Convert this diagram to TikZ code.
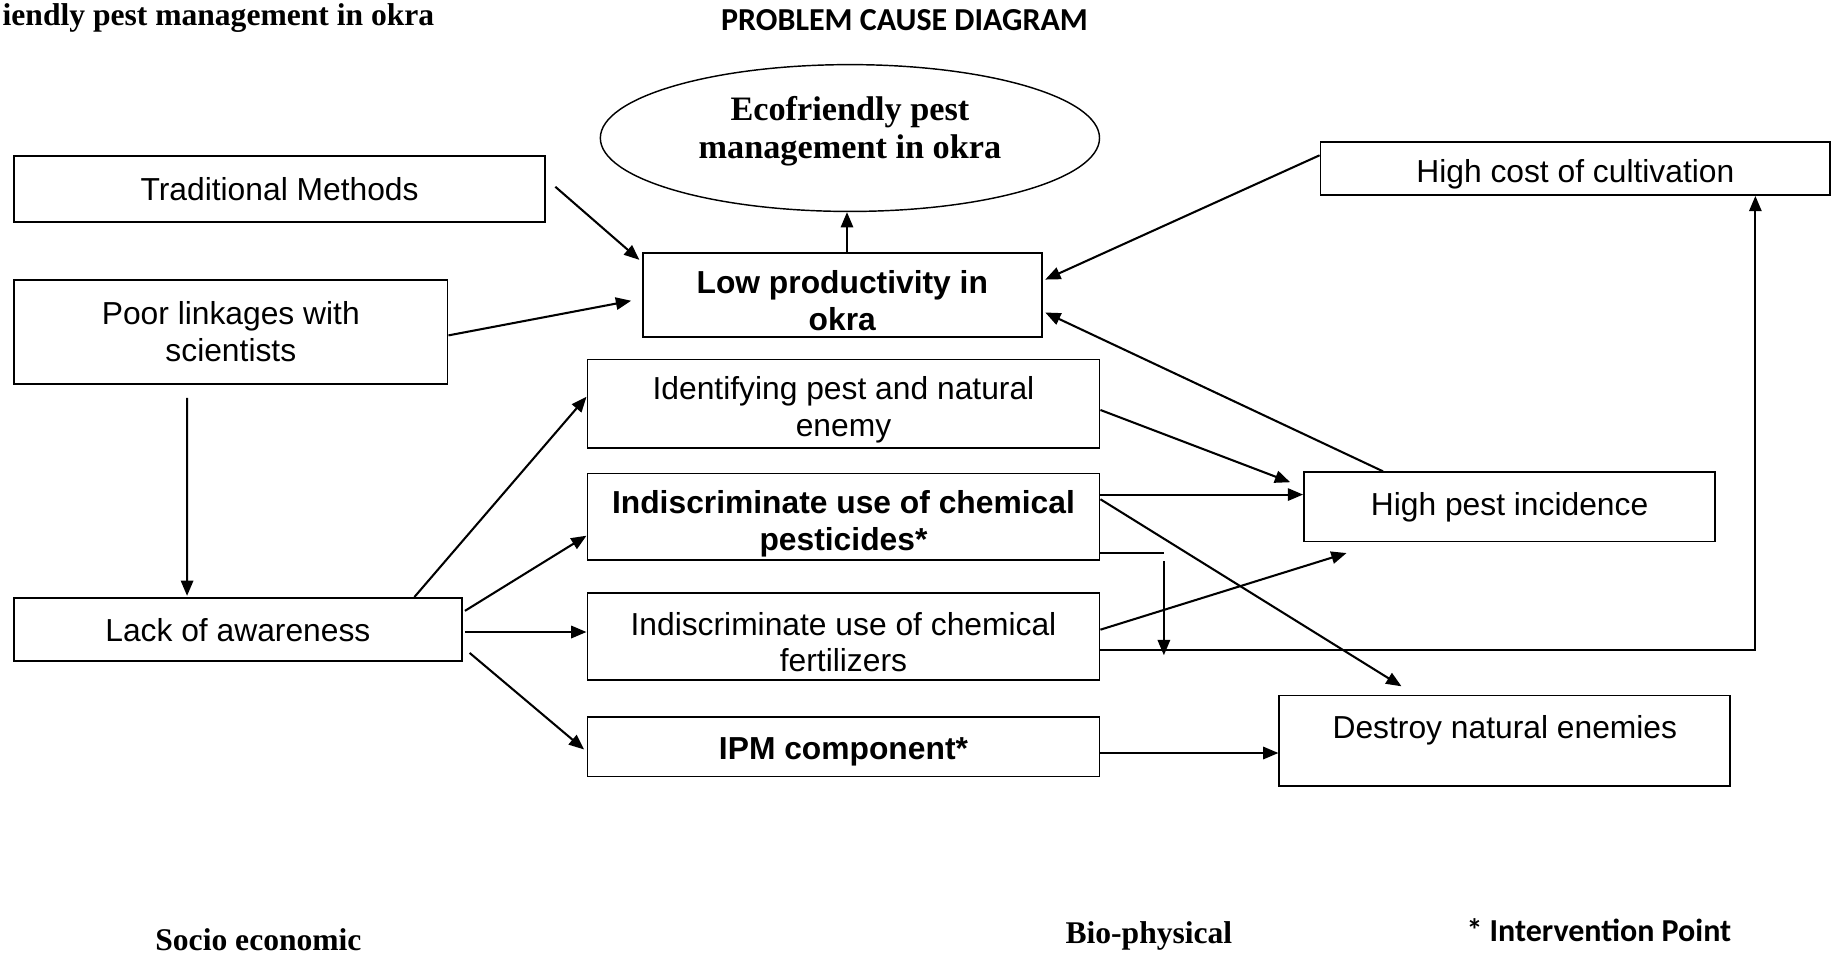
\documentclass[tikz,border=0pt]{standalone}
\usepackage{fontspec}
\setmainfont{Liberation Sans}
\newfontfamily\timesfont{Liberation Serif}
\newfontfamily\calibrifont{Carlito}
\usetikzlibrary{shapes.geometric,arrows.meta,calc}

% struts to nudge text inside the boxes
\newcommand{\tallstrut}[1]{\rule{0pt}{#1}}
\newcommand{\deepstrut}[1]{\rule[-#1]{0pt}{#1}}

\tikzset{
    box/.style={draw, line width=0.9pt, inner sep=0pt, align=center, font=\fontsize{15.4}{17.7}\selectfont},
    boldbox/.style={box, font=\bfseries\fontsize{15.4}{17.7}\selectfont},
    arr/.style={line width=1pt, -{Triangle[length=0.26cm,width=0.21cm]}},
    serifhead/.style={inner sep=0pt, font=\timesfont\bfseries\fontsize{15.3}{17}\selectfont},
    calhead/.style={inner sep=0pt, font=\calibrifont\bfseries\fontsize{15.5}{18}\selectfont},
}

\begin{document}
\begin{tikzpicture}[x=0.02cm, y=-0.02cm]
    \useasboundingbox (0,0) rectangle (1568,814);

    % headings
    \node[serifhead, anchor=east] (ttl) at (370,15) {iendly pest management in okra};
    \node[calhead] (head) at (770,17) {PROBLEM CAUSE DIAGRAM};

    % goal
    \node[draw, ellipse, line width=0.7pt, minimum width=8.5cm, minimum height=2.5cm, inner sep=0pt, align=center,
          font=\timesfont\bfseries\fontsize{16.6}{18.5}\selectfont] (ell) at (723.5,117.5) {Ecofriendly pest\\management in okra\deepstrut{10.5pt}};

    % boxes
    \node[box, minimum width=9.04cm, minimum height=1.12cm] (trad) at (238,161) {Traditional Methods};
    \node[boldbox, minimum width=6.8cm, minimum height=1.44cm] (low) at (717,251) {\tallstrut{17pt}Low productivity in\\okra};
    \node[box, minimum width=8.68cm, minimum height=0.9cm] (cost) at (1341,143.5) {\tallstrut{17pt}High cost of cultivation};
    \node[box, minimum width=7.38cm, minimum height=1.78cm] (poor) at (196.5,282.5) {Poor linkages with\\scientists};
    \node[box, minimum width=8.72cm, minimum height=1.5cm] (ident) at (718,343.5) {\tallstrut{17pt}Identifying pest and natural\\enemy};
    \node[boldbox, minimum width=8.72cm, minimum height=1.48cm] (pest) at (718,440) {\tallstrut{18pt}Indiscriminate use of chemical\\pesticides*};
    \node[box, minimum width=7cm, minimum height=1.18cm] (pinc) at (1285,431.5) {High pest incidence};
    \node[box, minimum width=7.62cm, minimum height=1.08cm] (lack) at (202.5,536) {Lack of awareness};
    \node[box, minimum width=8.72cm, minimum height=1.48cm] (fert) at (718,542) {\tallstrut{16.3pt}Indiscriminate use of chemical\\fertilizers};
    \node[boldbox, minimum width=8.72cm, minimum height=1.02cm] (ipm) at (718,635.5) {\tallstrut{15.8pt}IPM component*};
    \node[box, minimum width=7.68cm, minimum height=1.54cm] (dest) at (1281,630.5) {\tallstrut{15.8pt}Destroy natural enemies\\ \mbox{}};

    % arrows into low productivity
    \draw[arr] ($(trad.east)+(8,-2)$) -- ($(low.north west)+(-2,7)$);
    \draw[arr] ($(poor.east)+(0,3)$) -- ($(low.west)+(-9,5)$);
    \draw[arr] ($(low.north)+(4,0)$) -- ($(low.north |- ell.south)+(4,0)$);
    \draw[arr] ($(cost.north west)+(0,12)$) -- ($(low.east)+(2,-13)$);
    \draw[arr] ($(pinc.north west)+(68,0)$) -- ($(low.east)+(2,15)$);

    % socio economic side
    \draw[arr] ($(poor.south west)+(148,11)$) -- ($(lack.north west)+(148,-1)$);
    \draw[arr] ($(lack.north east)+(-41,0)$) -- ($(ident.south west)+(0,-44)$);
    \draw[arr] ($(lack.east)+(2,-16)$) -- ($(pest.west)+(0,16)$);
    \draw[arr] ($(lack.east)+(2,2)$) -- ($(fert.west)+(0,-4)$);
    \draw[arr] ($(lack.south east)+(6,-8)$) -- ($(ipm.west)+(-2,2.5)$);

    % bio-physical side
    \draw[arr] ($(ident.east)+(0,5.5)$) -- ($(pinc.west)+(-11,-21)$);
    \draw[arr] ($(pest.east)+(0,-19)$) -- ($(pinc.west)+(0,-10.5)$);
    \draw[arr] ($(pest.east)+(0,-15)$) -- ($(dest.north)+(-88,-7)$);
    \coordinate (bend) at ($(pest.south east)+(54,-7)$);
    \draw[line width=1pt] ($(pest.south east)+(0,-7)$) -- (bend);
    \draw[arr] ($(bend)+(0,7)$) -- ($(bend)+(0,87)$);
    \coordinate (costin) at ($(cost.south west)+(371,0)$);
    \draw[arr] ($(fert.east)+(0,11)$) coordinate (fo) -- (fo -| costin) -- (costin);
    \draw[arr] ($(fert.east)+(0,-6)$) -- ($(pinc.south west)+(37,9)$);
    \draw[arr] ($(ipm.east)+(0,5.5)$) -- ($(dest.west)+(0,10.5)$);

    % footer
    \node[serifhead] (socio) at (220,800) {Socio economic};
    \node[serifhead] (bio) at (978,797) {Bio-physical};
    \node[calhead] (inter) at (1361,792) {* Intervention Point};
\end{tikzpicture}
\end{document}
